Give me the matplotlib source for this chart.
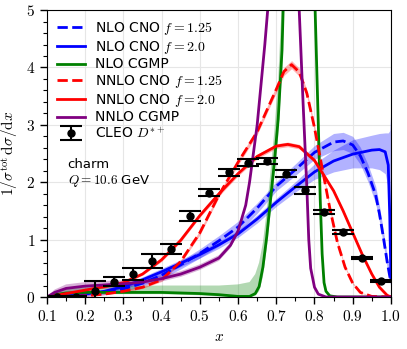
import numpy as np
import matplotlib
matplotlib.use("Agg")
import matplotlib.pyplot as plt
from matplotlib.ticker import FuncFormatter, MultipleLocator

plt.rcParams['mathtext.fontset'] = 'cm'
plt.rcParams['font.family'] = ['DejaVu Sans']

# NLO CNO f=1.25 (blue dashed)
x_nlo_f125 = [0.10, 0.15, 0.20, 0.25, 0.30, 0.35, 0.40, 0.45, 0.50, 0.55, 0.60, 0.65, 0.70,
              0.75, 0.80, 0.85, 0.875, 0.90, 0.92, 0.94, 0.96, 0.97, 0.98, 0.99, 1.00]
y_nlo_f125 = [0.00, 0.01, 0.03, 0.07, 0.14, 0.24, 0.38, 0.56, 0.76, 0.98, 1.22, 1.55, 1.93,
              2.22, 2.52, 2.70, 2.72, 2.65, 2.46, 2.16, 1.78, 1.45, 1.05, 0.62, 0.25]
e_nlo_f125 = [0.00, 0.01, 0.02, 0.03, 0.04, 0.05, 0.06, 0.07, 0.08, 0.09, 0.10, 0.09, 0.08,
              0.10, 0.12, 0.15, 0.15, 0.15, 0.15, 0.15, 0.15, 0.14, 0.12, 0.10, 0.08]

# NLO CNO f=2.0 (blue solid)
x_nlo_f20 = [0.10, 0.15, 0.20, 0.25, 0.30, 0.35, 0.40, 0.45, 0.50, 0.55, 0.60, 0.65, 0.70,
             0.75, 0.80, 0.85, 0.90, 0.95, 0.97, 0.985, 0.993, 0.997, 1.00]
y_nlo_f20 = [0.00, 0.02, 0.05, 0.10, 0.18, 0.30, 0.44, 0.59, 0.74, 0.91, 1.10, 1.36, 1.65,
             1.92, 2.18, 2.37, 2.49, 2.56, 2.57, 2.53, 2.30, 1.40, 0.30]
lo_nlo_f20 = [0.00, 0.01, 0.03, 0.07, 0.14, 0.25, 0.38, 0.53, 0.68, 0.85, 1.04, 1.29, 1.58,
              1.83, 2.05, 2.18, 2.25, 2.25, 2.22, 2.15, 1.90, 1.00, 0.00]
hi_nlo_f20 = [0.00, 0.03, 0.07, 0.13, 0.22, 0.35, 0.50, 0.65, 0.80, 0.97, 1.16, 1.43, 1.72,
              2.01, 2.32, 2.56, 2.74, 2.82, 2.85, 2.86, 2.86, 2.90, 3.30]

# NNLO CNO f=1.25 (red dashed)
x_nnlo_f125 = [0.10, 0.15, 0.20, 0.25, 0.30, 0.35, 0.40, 0.45, 0.50, 0.55, 0.60, 0.65, 0.70,
               0.72, 0.74, 0.76, 0.78, 0.80, 0.82, 0.84, 0.86, 0.88, 0.90, 0.92, 0.95, 1.00]
y_nnlo_f125 = [0.00, 0.01, 0.02, 0.05, 0.10, 0.17, 0.30, 0.62, 1.12, 1.78, 2.35, 2.88, 3.62,
               3.93, 4.05, 3.92, 3.55, 2.95, 2.25, 1.55, 0.95, 0.52, 0.24, 0.08, 0.01, 0.00]
e_nnlo_f125 = [0.00, 0.00, 0.01, 0.01, 0.02, 0.02, 0.03, 0.03, 0.04, 0.04, 0.05, 0.05, 0.06,
               0.07, 0.07, 0.07, 0.06, 0.05, 0.04, 0.04, 0.03, 0.02, 0.02, 0.01, 0.00, 0.00]

# NNLO CNO f=2.0 (red solid)
x_nnlo_f20 = [0.10, 0.15, 0.20, 0.25, 0.30, 0.35, 0.40, 0.45, 0.50, 0.55, 0.60, 0.65, 0.70,
              0.73, 0.76, 0.80, 0.85, 0.875, 0.90, 0.925, 0.95, 0.97, 0.99, 1.00]
y_nnlo_f20 = [0.00, 0.06, 0.12, 0.18, 0.25, 0.40, 0.65, 0.99, 1.42, 1.80, 2.15, 2.45, 2.63,
              2.66, 2.62, 2.38, 1.85, 1.50, 1.12, 0.74, 0.40, 0.17, 0.03, 0.00]
e_nnlo_f20 = [0.00, 0.01, 0.01, 0.02, 0.02, 0.02, 0.03, 0.03, 0.03, 0.04, 0.04, 0.04, 0.04,
              0.04, 0.04, 0.04, 0.03, 0.03, 0.02, 0.02, 0.01, 0.01, 0.00, 0.00]

# NLO CGMP (green)
x_nlo_cgmp = [0.10, 0.12, 0.15, 0.20, 0.30, 0.40, 0.50, 0.55, 0.60, 0.63, 0.645, 0.655, 0.665,
              0.675, 0.685, 0.695, 0.705, 0.715, 0.72, 0.75, 0.78, 0.80, 0.805, 0.81, 0.815,
              0.82, 0.825, 0.83, 0.84, 0.86, 1.00]
y_nlo_cgmp = [0.00, 0.04, 0.07, 0.08, 0.08, 0.08, 0.06, 0.04, 0.01, 0.01, 0.06, 0.18, 0.52,
              1.05, 1.70, 2.35, 3.10, 4.30, 5.50, 9.00, 8.00, 5.40, 4.20, 3.00, 1.70,
              0.75, 0.25, 0.10, 0.02, 0.00, 0.00]
lo_nlo_cgmp = [0.00, 0.02, 0.04, 0.05, 0.05, 0.05, 0.03, 0.01, 0.00, 0.00, 0.02, 0.10, 0.35,
               0.85, 1.45, 2.10, 2.80, 3.90, 5.00, 8.50, 7.50, 5.20, 4.00, 2.80, 1.50,
               0.65, 0.20, 0.08, 0.01, 0.00, 0.00]
hi_nlo_cgmp = [0.00, 0.08, 0.14, 0.17, 0.19, 0.20, 0.20, 0.20, 0.22, 0.26, 0.40, 0.60, 0.95,
               1.50, 2.20, 2.90, 3.80, 5.20, 6.50, 9.50, 8.50, 5.60, 4.40, 3.20, 1.90,
               0.85, 0.30, 0.12, 0.03, 0.00, 0.00]

# NNLO CGMP (purple)
x_nnlo_cgmp = [0.10, 0.12, 0.15, 0.20, 0.25, 0.30, 0.35, 0.40, 0.45, 0.50, 0.55, 0.58, 0.60,
               0.62, 0.63, 0.64, 0.65, 0.66, 0.67, 0.68, 0.70, 0.73, 0.75, 0.76, 0.77, 0.78,
               0.785, 0.79, 0.80, 0.81, 0.83, 1.00]
y_nnlo_cgmp = [0.00, 0.08, 0.15, 0.19, 0.21, 0.23, 0.26, 0.32, 0.40, 0.52, 0.68, 0.90, 1.15,
               1.60, 2.00, 2.50, 3.00, 3.70, 4.40, 5.20, 7.00, 8.00, 6.50, 5.00, 3.40, 1.90,
               1.00, 0.50, 0.17, 0.05, 0.00, 0.00]
e_nnlo_cgmp = [0.00, 0.05, 0.07, 0.07, 0.07, 0.06, 0.05, 0.05, 0.05, 0.05, 0.05, 0.05, 0.05,
               0.05, 0.05, 0.05, 0.05, 0.05, 0.05, 0.05, 0.05, 0.05, 0.05, 0.05, 0.05, 0.05,
               0.03, 0.02, 0.01, 0.00, 0.00, 0.00]

# CLEO D*+ data
x_cleo = [0.125, 0.175, 0.225, 0.275, 0.325, 0.375, 0.425, 0.475, 0.525, 0.575, 0.625,
          0.675, 0.725, 0.775, 0.825, 0.875, 0.925, 0.975]
y_cleo = [0.00, 0.00, 0.11, 0.27, 0.40, 0.63, 0.84, 1.41, 1.82, 2.17, 2.34, 2.37, 2.15,
          1.86, 1.48, 1.13, 0.68, 0.28]
err_cleo = [0.02, 0.02, 0.17, 0.07, 0.10, 0.12, 0.09, 0.09, 0.06, 0.06, 0.06, 0.05, 0.06,
            0.06, 0.04, 0.03, 0.02, 0.02]

fig = plt.figure(figsize=(4.07, 3.49), dpi=100)
ax = fig.add_axes([0.1155, 0.149, 0.845, 0.822])

lw = 2.0
a = 0.3

# bands
ax.fill_between(x_nlo_f125, np.array(y_nlo_f125) - e_nlo_f125, np.array(y_nlo_f125) + e_nlo_f125,
                color='blue', alpha=a, lw=0)
ax.fill_between(x_nlo_f20, lo_nlo_f20, hi_nlo_f20, color='blue', alpha=a, lw=0)
ax.fill_between(x_nlo_cgmp, lo_nlo_cgmp, hi_nlo_cgmp, color='green', alpha=a, lw=0)
ax.fill_between(x_nnlo_f125, np.array(y_nnlo_f125) - e_nnlo_f125, np.array(y_nnlo_f125) + e_nnlo_f125,
                color='red', alpha=a, lw=0)
ax.fill_between(x_nnlo_f20, np.array(y_nnlo_f20) - e_nnlo_f20, np.array(y_nnlo_f20) + e_nnlo_f20,
                color='red', alpha=a, lw=0)
ax.fill_between(x_nnlo_cgmp, np.array(y_nnlo_cgmp) - e_nnlo_cgmp, np.array(y_nnlo_cgmp) + e_nnlo_cgmp,
                color='purple', alpha=a, lw=0)

# central lines
ax.plot(x_nlo_f125, y_nlo_f125, color='blue', ls='--', lw=lw, label=r'NLO CNO $f = 1.25$')
ax.plot(x_nlo_f20, y_nlo_f20, color='blue', ls='-', lw=lw, label=r'NLO CNO $f = 2.0$')
ax.plot(x_nlo_cgmp, y_nlo_cgmp, color='green', ls='-', lw=lw, label='NLO CGMP')
ax.plot(x_nnlo_f125, y_nnlo_f125, color='red', ls='--', lw=lw, label=r'NNLO CNO $f = 1.25$')
ax.plot(x_nnlo_f20, y_nnlo_f20, color='red', ls='-', lw=lw, label=r'NNLO CNO $f = 2.0$')
ax.plot(x_nnlo_cgmp, y_nnlo_cgmp, color='purple', ls='-', lw=lw, label='NNLO CGMP')

ax.errorbar(x_cleo, y_cleo, yerr=err_cleo, fmt='o', color='black', ms=5, lw=1.5,
            capsize=8, capthick=1.5, label=r'CLEO $D^{*+}$', zorder=5)

ax.set_xlim(0.1, 1.0)
ax.set_ylim(0, 5)
ax.xaxis.set_major_locator(MultipleLocator(0.1))
ax.xaxis.set_minor_locator(MultipleLocator(0.05))
ax.yaxis.set_major_locator(MultipleLocator(1))
ax.yaxis.set_minor_locator(MultipleLocator(0.2))
ax.xaxis.set_major_formatter(FuncFormatter(lambda v, p: r'$%.1f$' % v))
ax.yaxis.set_major_formatter(FuncFormatter(lambda v, p: r'$%d$' % round(v)))
ax.tick_params(which='major', length=5, width=1, labelsize=11)
ax.tick_params(which='minor', length=3, width=0.8)
ax.grid(True, which='major', color='#e6e6e6', lw=0.8)
ax.set_axisbelow(True)

ax.set_xlabel(r'$x$', fontsize=11)
ax.set_ylabel(r'$1/\sigma^{\rm tot}\,{\rm d}\sigma/{\rm d}x$', fontsize=11)

ax.text(0.06, 0.43, 'charm\n' + r'$Q = 10.6$ GeV', transform=ax.transAxes,
        fontsize=9.5, va='center', ha='left', linespacing=1.15)

ax.legend(loc='upper left', frameon=False, fontsize=10, handlelength=2.0,
          handletextpad=0.7, borderaxespad=0.32, labelspacing=0.12)

fig.savefig('out.png', dpi=100)
